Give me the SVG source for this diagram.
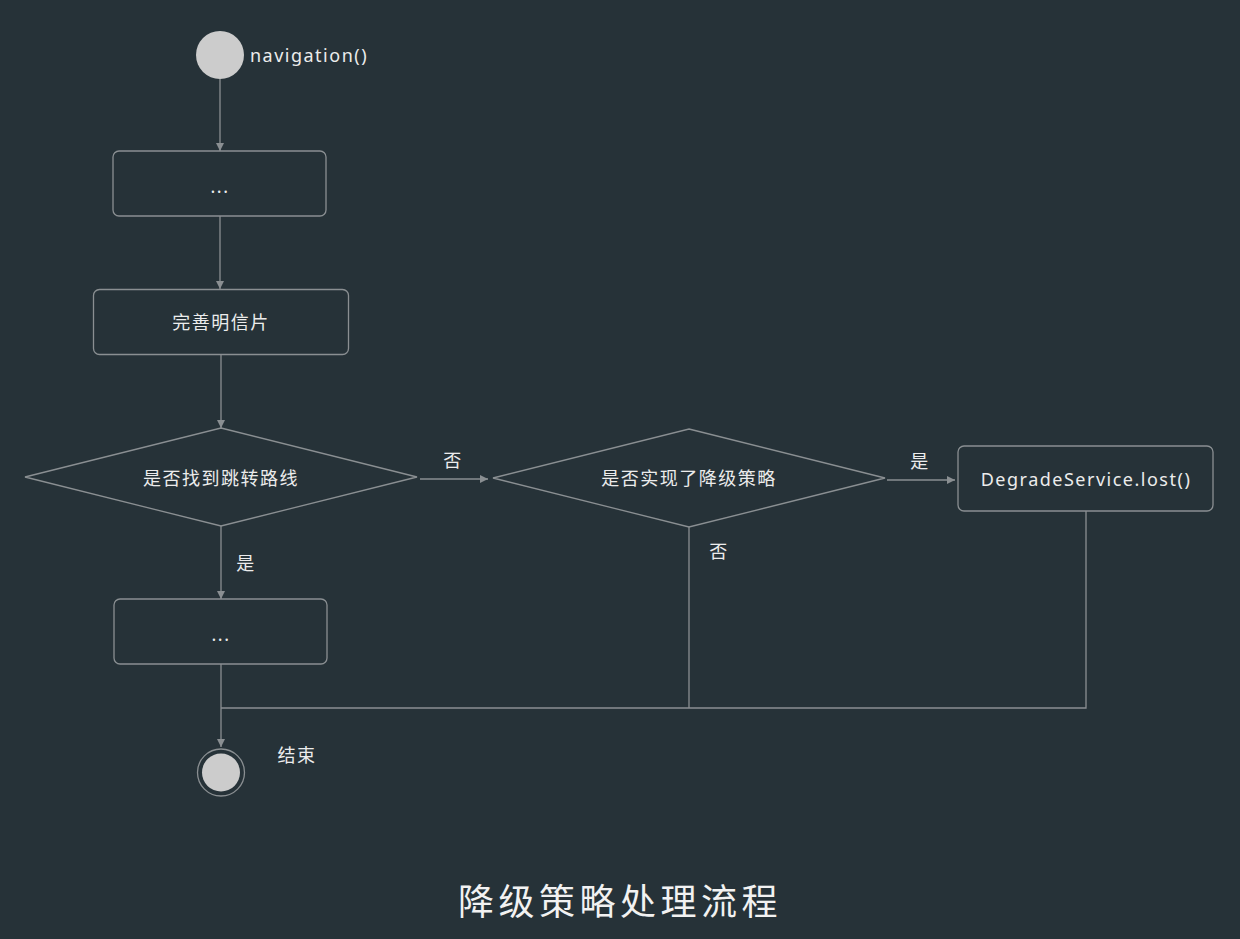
<svg xmlns="http://www.w3.org/2000/svg" width="1240" height="939" viewBox="0 0 1240 939">
<defs>
<marker id="arr" viewBox="0 0 10 10" refX="10" refY="5" markerWidth="8" markerHeight="8" markerUnits="userSpaceOnUse" orient="auto">
<path d="M0,0 L10,5 L0,10 z" fill="#8a8f92"/>
</marker>
</defs>
<style>
.bg{fill:#263238}
.box{fill:none;stroke:#8a8f92;stroke-width:1.3}
.ln{fill:none;stroke:#8a8f92;stroke-width:1.3}
.t{font-family:"Noto Sans","Noto Sans CJK SC",sans-serif;font-size:18px;letter-spacing:1.5px;fill:#ececec;text-anchor:middle;dominant-baseline:central}
.title{font-family:"Noto Sans CJK SC",sans-serif;font-size:36px;letter-spacing:4.5px;fill:#f2f2f2;text-anchor:middle;dominant-baseline:central}
</style>
<rect class="bg" x="0" y="0" width="1240" height="939"/>
<g id="connectors">
<line class="ln" x1="220" y1="79" x2="220" y2="151" marker-end="url(#arr)"/>
<line class="ln" x1="220" y1="216" x2="220" y2="289" marker-end="url(#arr)"/>
<line class="ln" x1="221" y1="354" x2="221" y2="428" marker-end="url(#arr)"/>
<line class="ln" x1="420" y1="479" x2="488" y2="479" marker-end="url(#arr)"/>
<line class="ln" x1="887" y1="480" x2="955" y2="480" marker-end="url(#arr)"/>
<line class="ln" x1="221" y1="526" x2="221" y2="599" marker-end="url(#arr)"/>
<line class="ln" x1="221" y1="664" x2="221" y2="747" marker-end="url(#arr)"/>
<polyline class="ln" points="689,527 689,708"/>
<polyline class="ln" points="1086,511 1086,708 221,708"/>
<text class="t" x="453" y="460">否</text>
<text class="t" x="920" y="461">是</text>
<text class="t" x="719" y="551">否</text>
<text class="t" x="246" y="563">是</text>
</g>
<g id="start">
<circle cx="220" cy="55" r="24" fill="#cccccc"/>
<text class="t" x="309" y="55">navigation()</text>
</g>
<g id="box1">
<rect class="box" x="113" y="151" width="213" height="65" rx="6"/>
<text class="t" x="220" y="186">...</text>
</g>
<g id="box2">
<rect class="box" x="93.5" y="289.5" width="255" height="65" rx="6"/>
<text class="t" x="221" y="322">完善明信片</text>
</g>
<g id="decision1">
<polygon class="box" points="221,428 417,477 221,526 25,477"/>
<text class="t" x="221" y="478">是否找到跳转路线</text>
</g>
<g id="decision2">
<polygon class="box" points="689,429 885,478 689,527 493,478"/>
<text class="t" x="689" y="478">是否实现了降级策略</text>
</g>
<g id="box3">
<rect class="box" x="958" y="446" width="255" height="65" rx="6"/>
<text class="t" x="1086" y="479">DegradeService.lost()</text>
</g>
<g id="box4">
<rect class="box" x="114" y="599" width="213" height="65" rx="6"/>
<text class="t" x="221" y="634">...</text>
</g>
<g id="end">
<circle cx="221" cy="772.5" r="23.5" fill="none" stroke="#8a8f92" stroke-width="1.3"/>
<circle cx="221" cy="772.5" r="19" fill="#cccccc"/>
<text class="t" x="297" y="755">结束</text>
</g>
<text class="title" x="620" y="899">降级策略处理流程</text>
</svg>
